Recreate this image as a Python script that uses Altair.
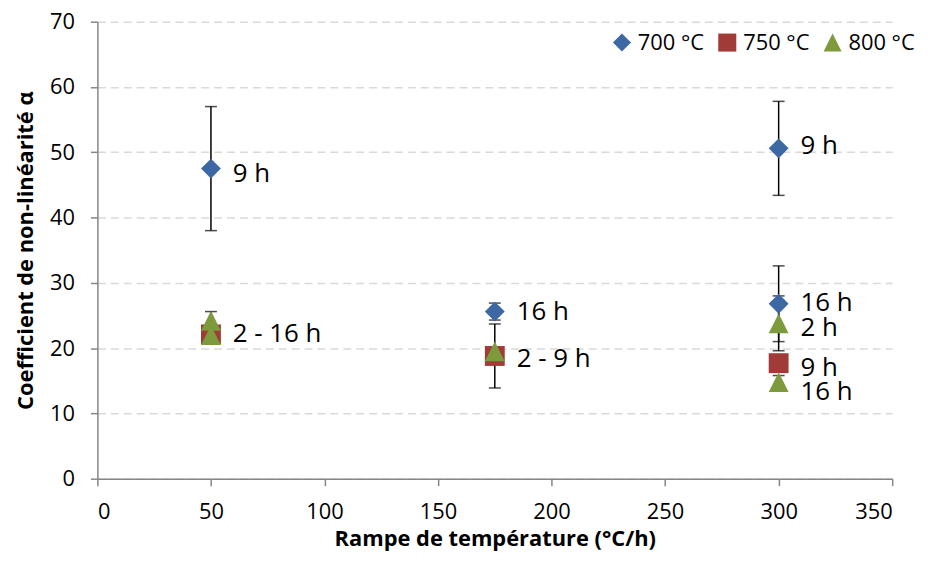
import altair as alt
import pandas as pd

series = ["700 °C", "750 °C", "800 °C"]
colors = ["#3c68a4", "#a13b38", "#7d9a3c"]
shapes = ["diamond", "square", "M0,-1L1,1L-1,1Z"]

x_700 = [50, 175, 300, 300]
y_700 = [47.5, 25.6, 50.6, 26.8]
e_700 = [9.5, 1.3, 7.2, 5.8]

x_750 = [50, 175, 300]
y_750 = [22.1, 18.8, 17.7]
e_750 = [0.0, 4.9, 0.0]

x_800 = [50, 50, 175, 300, 300]
y_800 = [24.2, 22.0, 19.5, 23.8, 14.8]
e_800 = [1.4, 0.0, 0.0, 4.2, 1.0]

label_x = [50, 50, 175, 175, 300, 300, 300, 300, 300]
label_y = [46.7, 22.1, 25.6, 18.3, 51.0, 26.9, 23.1, 17.0, 13.2]
label_text = ["9 h", "2 - 16 h", "16 h", "2 - 9 h", "9 h", "16 h", "2 h", "9 h", "16 h"]

x_ticks = [0, 50, 100, 150, 200, 250, 300, 350]
y_ticks = [0, 10, 20, 30, 40, 50, 60, 70]

rows = []
for s, xs, ys, es in zip(series, [x_700, x_750, x_800], [y_700, y_750, y_800], [e_700, e_750, e_800]):
    for xv, yv, ev in zip(xs, ys, es):
        rows.append({"serie": s, "x": xv, "y": yv, "err": ev})
df = pd.DataFrame(rows)
labels = pd.DataFrame({"x": label_x, "y": label_y, "text": label_text})

FONT = "Open Sans"

xscale = alt.Scale(domain=[0, 350], nice=False, zero=False)
yscale = alt.Scale(domain=[0, 70], nice=False)

xaxis = alt.Axis(values=x_ticks, grid=False, domainColor="#868686", tickColor="#868686",
                 tickSize=7, domainWidth=1.5, tickWidth=1.5,
                 labelFont=FONT, labelFontSize=22, labelColor="black", labelPadding=16,
                 title="Rampe de température (°C/h)", titleFont=FONT, titleFontSize=22,
                 titleFontWeight="bold", titleColor="black", titlePadding=6)
yaxis = alt.Axis(values=y_ticks, grid=True, gridDash=[8, 5], gridColor="#d9d9d9", gridWidth=1.5,
                 domainColor="#868686", tickColor="#868686", tickSize=7, domainWidth=1.5, tickWidth=1.5,
                 labelFont=FONT, labelFontSize=22, labelColor="black", labelPadding=16,
                 title="Coefficient de non-linéarité α", titleFont=FONT, titleFontSize=22,
                 titleFontWeight="bold", titleColor="black", titlePadding=12)

base = alt.Chart(df)

err = base.transform_filter("datum.err > 0").transform_calculate(
    lo="datum.y - datum.err", hi="datum.y + datum.err")

rules = err.mark_rule(color="black", strokeWidth=1.5).encode(
    x=alt.X("x:Q", scale=xscale, axis=xaxis),
    y=alt.Y("lo:Q", scale=yscale, axis=yaxis),
    y2="hi:Q")
caps_lo = err.mark_tick(color="black", thickness=1.5, size=12, orient="horizontal").encode(
    x=alt.X("x:Q", scale=xscale), y=alt.Y("lo:Q", scale=yscale))
caps_hi = err.mark_tick(color="black", thickness=1.5, size=12, orient="horizontal").encode(
    x=alt.X("x:Q", scale=xscale), y=alt.Y("hi:Q", scale=yscale))

legend = alt.Legend(title=None, orient="none", direction="horizontal", legendX=517, legendY=10,
                    labelFont=FONT, labelFontSize=22, labelColor="black", symbolSize=330,
                    symbolStrokeWidth=0, symbolOpacity=1, labelOffset=5, columnPadding=12, padding=0)

points = base.mark_point(filled=True, size=400, opacity=1, strokeWidth=0).encode(
    x=alt.X("x:Q", scale=xscale),
    y=alt.Y("y:Q", scale=yscale),
    color=alt.Color("serie:N", scale=alt.Scale(domain=series, range=colors), legend=legend),
    shape=alt.Shape("serie:N", scale=alt.Scale(domain=series, range=shapes), legend=legend),
)

texts = alt.Chart(labels).mark_text(align="left", baseline="middle", dx=22, font=FONT,
                                    fontSize=26, color="black").encode(
    x=alt.X("x:Q", scale=xscale), y=alt.Y("y:Q", scale=yscale), text="text:N")

chart = alt.layer(rules, caps_lo, caps_hi, points, texts).properties(
    width=800, height=460,
    autosize=alt.AutoSizeParams(type="none"),
    padding={"left": 90, "top": 12, "right": 28, "bottom": 75},
).configure_view(stroke=None)

chart.save("out.html", embed_options={"renderer": "svg", "actions": False})
